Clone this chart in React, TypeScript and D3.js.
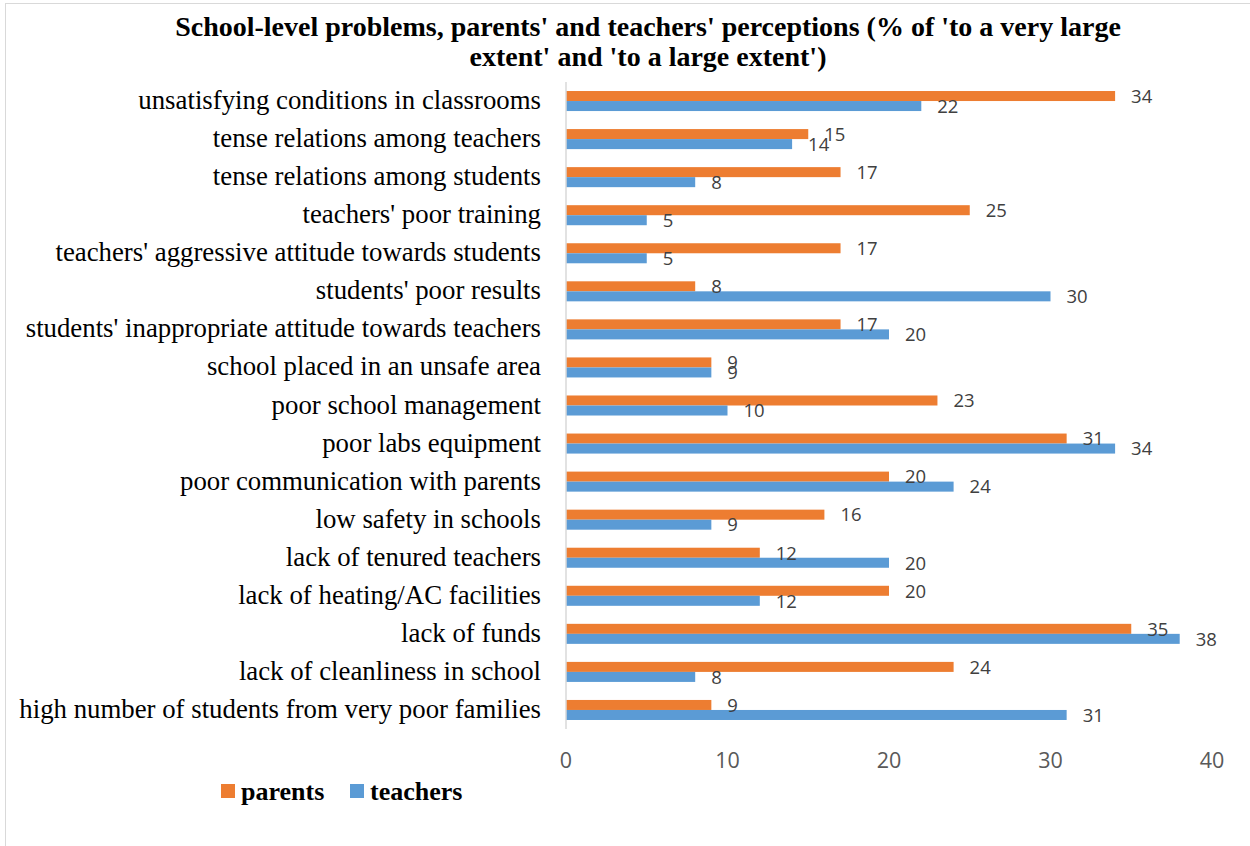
import React from "react";
import * as d3 from "d3";

const categories = [
  "unsatisfying conditions in classrooms",
  "tense relations among teachers",
  "tense relations among students",
  "teachers' poor training",
  "teachers' aggressive attitude towards students",
  "students' poor results",
  "students' inappropriate attitude towards teachers",
  "school placed in an unsafe area",
  "poor school management",
  "poor labs equipment",
  "poor communication with parents",
  "low safety in schools",
  "lack of tenured teachers",
  "lack of heating/AC facilities",
  "lack of funds",
  "lack of cleanliness in school",
  "high number of students from very poor families",
];
const parents = [34, 15, 17, 25, 17, 8, 17, 9, 23, 31, 20, 16, 12, 20, 35, 24, 9];
const teachers = [22, 14, 8, 5, 5, 30, 20, 9, 10, 34, 24, 9, 20, 12, 38, 8, 31];
const seriesNames = ["parents", "teachers"];
const seriesColors = ["#ED7D31", "#5B9BD5"];
const xTicks = [0, 10, 20, 30, 40];
const titleLines = [
  "School-level problems, parents' and teachers' perceptions (% of 'to a very large",
  "extent' and 'to a large extent')",
];

export default function App() {
  const W = 1250, H = 846;
  const x = d3.scaleLinear().domain([0, 40]).range([566, 1212]);
  const y = d3.scaleBand().domain(categories).range([82, 729]).padding(0);
  const inner = d3.scaleBand().domain(seriesNames).range([0, y.bandwidth()]).paddingOuter(0.9).paddingInner(0);
  const series = [parents, teachers];
  const serif = "'Liberation Serif', 'Times New Roman', serif";
  const sans = "'Open Sans', sans-serif";
  return (
    <svg width={W} height={H} style={{ position: "absolute", left: 0, top: 0, background: "#fff" }}>
      <rect x={5.5} y={3.5} width={1400} height={1000} fill="#fff" stroke="#D9D9D9" strokeWidth={1} />
      {titleLines.map((t, i) => (
        <text key={i} x={648} y={36 + i * 30} textAnchor="middle" fontFamily={serif} fontWeight="bold" fontSize={28} fill="#000">{t}</text>
      ))}
      {categories.map((c) => (
        <text key={c} x={541} y={(y(c) as number) + y.bandwidth() / 2 + 8} textAnchor="end" fontFamily={serif} fontSize={26.8} fill="#000">{c}</text>
      ))}
      {series.map((vals, si) =>
        categories.map((c, i) => {
          const by = (y(c) as number) + (inner(seriesNames[si]) as number);
          return (
            <rect key={c + si} x={x(0)} y={by} width={x(vals[i]) - x(0)} height={inner.bandwidth()} fill={seriesColors[si]} />
          );
        })
      )}
      {series.map((vals, si) =>
        categories.map((c, i) => {
          const by = (y(c) as number) + (inner(seriesNames[si]) as number) + inner.bandwidth() / 2;
          return (
            <text key={"l" + c + si} x={x(vals[i]) + 16} y={by + 6.8} fontFamily={sans} fontSize={18.5} fill="#404040">{vals[i]}</text>
          );
        })
      )}
      <line x1={x(0)} x2={x(0)} y1={82} y2={729} stroke="#D9D9D9" strokeWidth={1.5} />
      {xTicks.map((t) => (
        <text key={t} x={x(t)} y={768} textAnchor="middle" fontFamily={sans} fontSize={21.5} fill="#595959">{t}</text>
      ))}
      {seriesNames.map((s, i) => {
        const lx = [221, 350][i];
        return (
          <g key={s}>
            <rect x={lx} y={784} width={14} height={14} fill={seriesColors[i]} />
            <text x={lx + 20} y={800} fontFamily={serif} fontWeight="bold" fontSize={26} fill="#000">{s}</text>
          </g>
        );
      })}
    </svg>
  );
}
